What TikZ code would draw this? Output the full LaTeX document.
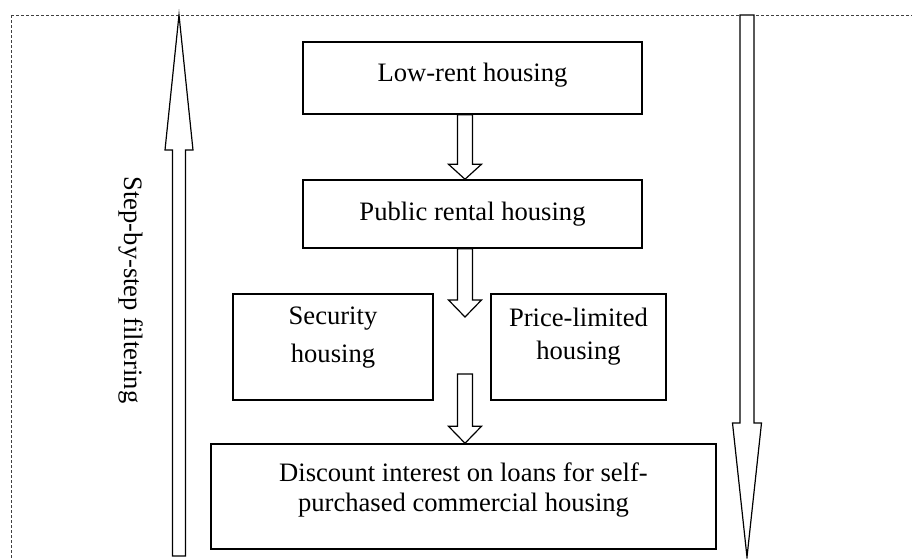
\documentclass[tikz,border=0pt]{standalone}
\usepackage{fontspec}
\setmainfont{Liberation Serif}
\usetikzlibrary{calc}
% hollow block arrow: from, to, shaft half width, head half width, head length (signed)
\newcommand{\hollowarrow}[5]{%
  \draw[arrowline] let \p1=#1, \p2=#2 in
    ({\x1-#3},\y1) -- ({\x1+#3},\y1) -- ({\x1+#3},{\y2+#5}) -- ({\x1+#4},{\y2+#5})
    -- (\x1,\y2) -- ({\x1-#4},{\y2+#5}) -- ({\x1-#3},{\y2+#5}) -- cycle;}
\tikzset{
  box/.style={draw, line width=0.75pt, inner sep=0pt, text height=9pt, align=center},
  twoline/.style={text height=24pt},
  arrowline/.style={draw, fill=white, line width=0.6pt, line join=miter},
  frame/.style={draw=black!75, line width=0.5pt, dash pattern=on 1.5pt off 1pt}
}
\begin{document}
\begin{tikzpicture}[x=0.5pt, y=-0.5pt, every node/.style={font=\fontsize{13.3}{15}\selectfont}]
  \useasboundingbox (0,0) rectangle (912,558);
  \clip (0,0) rectangle (912,558);
  \draw[frame] (11,15) rectangle (960,620);
  \node[box, minimum width=169.5pt, minimum height=36pt, text depth=5.5pt] (lowrent) at (472.5,78) {Low-rent housing};
  \node[box, minimum width=169.5pt, minimum height=34pt, text depth=3pt] (rental) at (472.5,214) {Public rental housing};
  \node[box, twoline, minimum width=100pt, minimum height=53pt, text depth=9pt] (security) at (333,347) {Security\\[4pt]housing};
  \node[box, twoline, minimum width=87.5pt, minimum height=53pt, text depth=12pt] (pricelim) at (578.5,347) {Price-limited\\[1.5pt]housing};
  \node[box, twoline, minimum width=252.5pt, minimum height=52.5pt, text depth=9.5pt] (discount) at (463.5,496.5) {Discount interest on loans for self-\\purchased commercial housing};
  \node[rotate=-90] (filtering) at (131,290) {Step-by-step filtering};
  \coordinate (mid) at (465,0);
  \coordinate (split) at (465,317);
  \coordinate (join) at (465,374);
  \coordinate (upfoot) at (179,556);
  \coordinate (uptip) at (179,15);
  \coordinate (downtop) at (747,15);
  \coordinate (downtip) at (747,557);
  \hollowarrow{(lowrent.south -| mid)}{(rental.north -| mid)}{3.75pt}{8.25pt}{7.5pt}
  \hollowarrow{(rental.south -| mid)}{(split)}{3.75pt}{8.25pt}{8.5pt}
  \hollowarrow{(join)}{(discount.north -| mid)}{3.75pt}{8.25pt}{8.5pt}
  \hollowarrow{(upfoot)}{(uptip)}{3.25pt}{7pt}{(-67.5pt)}
  \hollowarrow{(downtop)}{(downtip)}{3.5pt}{7.25pt}{67pt}
\end{tikzpicture}
\end{document}
